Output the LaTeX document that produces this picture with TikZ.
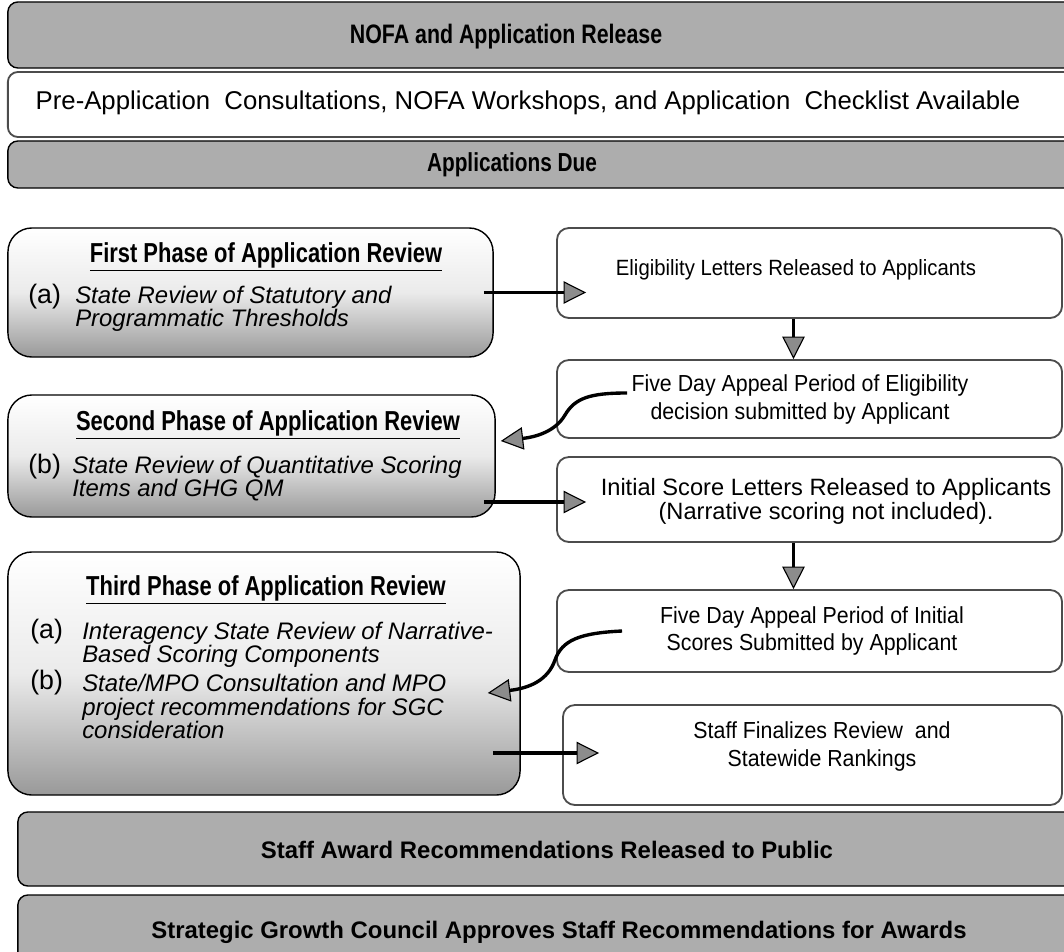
\documentclass[tikz,border=0pt]{standalone}
\usepackage{fontspec}
\setmainfont{Liberation Sans}
\newfontfamily\narrowfont[FakeStretch=0.92]{Liberation Sans}
\newfontfamily\headfont[FakeStretch=0.8]{Liberation Sans}
\usetikzlibrary{arrows.meta, calc}

\begin{document}
\begin{tikzpicture}[x=0.025cm, y=-0.025cm]

		% Define block styles
		\tikzstyle{bar} = [rectangle, rounded corners=0.25cm, draw, line width=1pt, fill=black!32, inner sep=0pt]
		\tikzstyle{phase} = [rectangle, rounded corners=0.6cm, draw, line width=1pt, top color=white, bottom color=black!40, middle color=black!8, inner sep=0pt]
		\tikzstyle{stepbox} = [rectangle, rounded corners=0.3cm, draw=black!70, line width=1.3pt, fill=white, inner sep=0pt]
		\tikzstyle{bartext} = [font=\headfont\bfseries\fontsize{17}{20}\selectfont, inner sep=0pt]
		\tikzstyle{widetext} = [font=\bfseries\fontsize{17}{20}\selectfont, inner sep=0pt]
		\tikzstyle{title} = [font=\headfont\bfseries\fontsize{19.5}{22}\selectfont, inner sep=0pt]
		\tikzstyle{tag} = [font=\fontsize{19}{20}\selectfont, anchor=west, inner sep=0pt]
		\tikzstyle{item} = [font=\itshape\fontsize{17}{16.5}\selectfont, anchor=west, align=left, inner sep=0pt]
		\tikzstyle{steptext} = [font=\narrowfont\fontsize{16.5}{19.5}\selectfont, align=center, inner sep=0pt]
		\tikzstyle{flow} = [line width=2.4pt, -{Triangle[length=16pt, width=16pt, fill=black!45, line width=0.8pt]}]

		\useasboundingbox (0,0) rectangle (1064,952);

		% Nodes
		\node[bar, minimum width=26.8cm, minimum height=1.65cm] (nofa) at (544,35) {};
		\node[bartext, font=\headfont\bfseries\fontsize{19}{22}\selectfont] (nofatext) at (506,37) {NOFA and Application Release};
		\node[bar, fill=white, draw=black!70, line width=1.3pt, minimum width=26.8cm, minimum height=1.625cm] (pre) at (544,104.5) {};
		\node[font=\fontsize{18.3}{20}\selectfont, inner sep=0pt] (pretext) at (528,103) {Pre-Application\ \ Consultations, NOFA Workshops, and Application\ \ Checklist Available};
		\node[bar, minimum width=26.8cm, minimum height=1.175cm] (due) at (544,164.5) {};
		\node[bartext, font=\headfont\bfseries\fontsize{18.5}{20}\selectfont] (duetext) at (512,165) {Applications Due};

		\node[phase, minimum width=12.125cm, minimum height=3.225cm] (phase1) at (250.5,292.5) {};
		\node[title] (phase1title) at (266,257) {\underline{First Phase of Application Review}};
		\node[tag] (phase1a) at (28,297) {(a)};
		\node[item] (phase1atext) at (75,308.5) {State Review of Statutory and\\Programmatic Thresholds};

		\node[phase, minimum width=12.175cm, minimum height=3.05cm] (phase2) at (251.5,456) {};
		\node[title] (phase2title) at (268,425) {\underline{Second Phase of Application Review}};
		\node[tag] (phase2b) at (28,467) {(b)};
		\node[item] (phase2btext) at (72,478.5) {State Review of Quantitative Scoring\\Items and GHG QM};

		\node[phase, minimum width=12.8cm, minimum height=6.075cm] (phase3) at (264,673.5) {};
		\node[title] (phase3title) at (266,590) {\underline{Third Phase of Application Review}};
		\node[tag] (phase3a) at (30,632) {(a)};
		\node[item] (phase3atext) at (82,644.5) {Interagency State Review of Narrative-\\Based Scoring Components};
		\node[tag] (phase3b) at (30,683) {(b)};
		\node[item] (phase3btext) at (82,706.5) {State/MPO Consultation and MPO\\project recommendations for SGC\\consideration};

		\node[stepbox, minimum width=12.625cm, minimum height=2.25cm] (elig) at (809.5,273) {};
		\node[steptext, font=\narrowfont\fontsize{15.7}{19.5}\selectfont] (eligtext) at (796,270) {Eligibility Letters Released to Applicants};
		\node[stepbox, minimum width=12.625cm, minimum height=1.95cm] (appeal1) at (809.5,399) {};
		\node[steptext] (appeal1text) at (800,399.5) {Five Day Appeal Period of Eligibility\\decision submitted by Applicant};
		\node[stepbox, minimum width=12.625cm, minimum height=2.125cm] (score) at (809.5,499.5) {};
		\node[steptext, font=\fontsize{16.8}{17}\selectfont] (scoretext) at (826,501.5) {Initial Score Letters Released to Applicants\\(Narrative scoring not included).};
		\node[stepbox, minimum width=12.625cm, minimum height=2.05cm] (appeal2) at (809.5,631) {};
		\node[steptext] (appeal2text) at (812,631) {Five Day Appeal Period of Initial\\Scores Submitted by Applicant};
		\node[stepbox, minimum width=12.475cm, minimum height=2.5cm] (final) at (812.5,755) {};
		\node[steptext] (finaltext) at (822,746.5) {Staff Finalizes Review\ \ and\\Statewide Rankings};

		\node[bar, minimum width=26.55cm, minimum height=1.85cm] (award) at (549,849) {};
		\node[widetext] (awardtext) at (547,850) {Staff Award Recommendations Released to Public};
		\node[bar, minimum width=26.55cm, minimum height=1.75cm] (sgc) at (549,930) {};
		\node[widetext] (sgctext) at (559,932) {Strategic Growth Council Approves Staff Recommendations for Awards};

		% Arrows
		\draw[flow] ($(phase1.east)+(-10,0)$) -- ($(phase1.east -| elig.west)+(30,0)$);
		\draw[flow] ($(elig.south)+(-16,0)$) -- ($(appeal1.north)+(-16,0)$);
		\draw[flow] ($(appeal1.west)+(71,-6)$) .. controls (590,393) and (575,398) .. (565,415) .. controls (555,432) and (535,437) .. ($(phase2.east)+(5,-15)$);
		\draw[flow] ($(phase2.east)+(-12,46)$) -- ($(phase2.east -| score.west)+(30,46)$);
		\draw[flow] ($(score.south)+(-16,0)$) -- ($(appeal2.north)+(-16,0)$);
		\draw[flow] ($(appeal2.west)+(66,0)$) .. controls (580,633) and (562,640) .. (555,660) .. controls (548,680) and (530,688) .. ($(phase3.east)+(-33,19.5)$);
		\draw[flow] ($(phase3.east)+(-28,79.5)$) -- ($(phase3.east -| final.west)+(37,79.5)$);

	\end{tikzpicture}
\end{document}
